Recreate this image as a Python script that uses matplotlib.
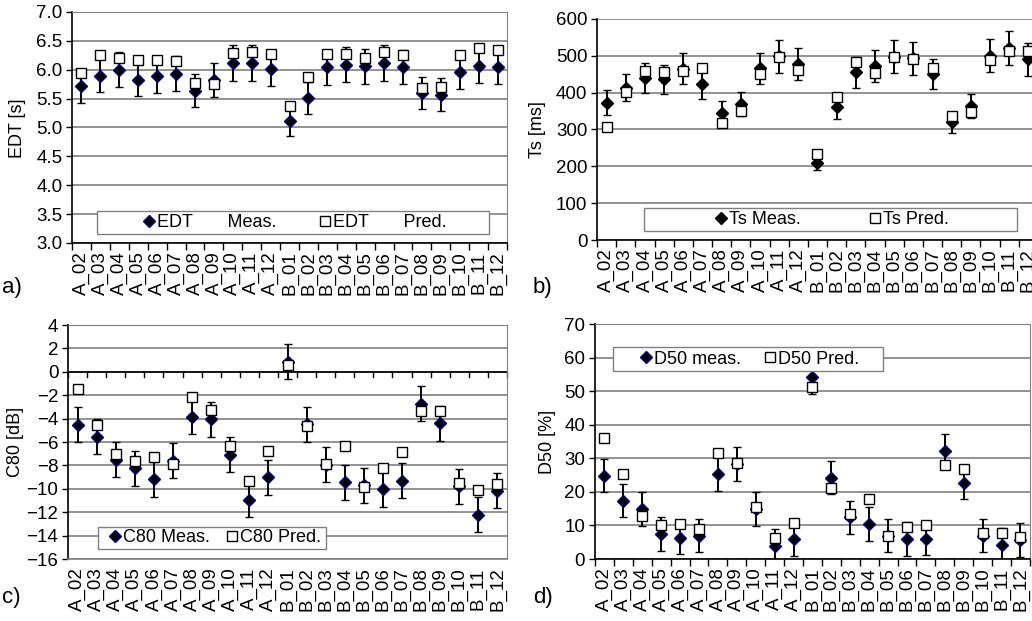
import matplotlib
matplotlib.use("Agg")
import matplotlib.pyplot as plt
from matplotlib.lines import Line2D
from matplotlib.patches import Rectangle
import numpy as np

plt.rcParams['font.family'] = ['Liberation Sans', 'DejaVu Sans']

# categorias (posiciones de medida)
posiciones = ['A_02', 'A_03', 'A_04', 'A_05', 'A_06', 'A_07', 'A_08', 'A_09',
              'A_10', 'A_11', 'A_12', 'B_01', 'B_02', 'B_03', 'B_04', 'B_05',
              'B_06', 'B_07', 'B_08', 'B_09', 'B_10', 'B_11', 'B_12']

# a) EDT [s]
edt_meas = [5.71, 5.90, 6.00, 5.83, 5.89, 5.93, 5.64, 5.82, 6.12, 6.12, 6.02, 5.11,
            5.51, 6.04, 6.09, 6.06, 6.12, 6.05, 5.60, 5.57, 5.96, 6.07, 6.05]
edt_err = [0.28, 0.29, 0.30, 0.29, 0.29, 0.30, 0.28, 0.29, 0.31, 0.31, 0.30, 0.26,
           0.28, 0.30, 0.30, 0.30, 0.31, 0.30, 0.28, 0.28, 0.30, 0.30, 0.30]
edt_pred = [5.94, 6.26, 6.20, 6.16, 6.16, 6.15, 5.77, 5.75, 6.29, 6.30, 6.28, 5.37,
            5.87, 6.27, 6.28, 6.21, 6.30, 6.26, 5.69, 5.70, 6.25, 6.38, 6.34]

# b) Ts [ms]
ts_meas = [373, 413, 440, 436, 465, 423, 344, 369, 466, 499, 478, 210,
           361, 455, 472, 497, 493, 450, 319, 364, 500, 521, 490]
ts_err = [34, 37, 40, 40, 42, 40, 32, 33, 42, 45, 43, 19,
          33, 42, 43, 45, 44, 40, 29, 32, 45, 47, 45]
ts_pred = [308, 403, 458, 455, 458, 467, 317, 349, 451, 496, 462, 234,
           387, 483, 453, 497, 492, 467, 337, 347, 489, 512, 514]

# c) C80 [dB]
c80_meas = [-4.53, -5.53, -7.52, -8.23, -9.17, -7.6, -3.82, -4.05, -7.10, -10.94, -9.0, 0.87,
            -4.47, -7.95, -9.43, -9.7, -10.03, -9.31, -2.74, -4.39, -9.8, -12.2, -10.17]
c80_err = 1.5
c80_pred = [-1.49, -4.53, -7.04, -7.66, -7.24, -7.86, -2.12, -3.25, -6.38, -9.31, -6.75, 0.59,
            -4.62, -7.86, -6.38, -9.88, -8.23, -6.81, -3.34, -3.34, -9.46, -10.08, -9.57]

# d) D50 [%]
d50_meas = [24.9, 17.4, 14.9, 7.5, 6.4, 7.0, 25.3, 28.4, 14.9, 4.0, 5.9, 54.3,
            24.3, 12.4, 10.5, 7.0, 5.9, 6.1, 32.3, 22.8, 7.0, 4.2, 5.7]
d50_err = 5.0
d50_pred = [36.2, 25.3, 12.7, 10.0, 10.5, 8.9, 31.5, 28.6, 15.5, 6.4, 10.7, 51.2,
            21.3, 13.5, 17.9, 6.9, 9.5, 10.0, 28.1, 26.9, 7.9, 7.9, 6.7]

GRIS = '#808080'
TAM_TICK = 13.5


def dibujar_panel(ax, meas, err, pred, ylim, paso, color_borde, cero=None):
    """Dibuja un panel estilo Excel: medido con barras de error y predicho"""
    x = np.arange(len(posiciones))
    ax.set_xlim(-0.5, len(posiciones) - 0.5)
    ax.set_ylim(*ylim)
    ticks = np.arange(ylim[0], ylim[1] + paso / 2, paso)
    ax.set_yticks(ticks)
    for t in ticks:
        ax.axhline(t, color=GRIS, lw=1.2, zorder=1)
    ax.errorbar(x, meas, yerr=err, fmt='D', ms=6.3, mfc='black', mec=color_borde,
                mew=1.0, ecolor='black', elinewidth=1.4, capsize=3, capthick=1.4,
                zorder=4)
    ax.plot(x, pred, 's', ms=7.5, mfc='white', mec='black', mew=1.0, zorder=5)
    ax.set_xticks(x)
    ax.set_xticklabels(posiciones, rotation=90, fontsize=TAM_TICK)
    ax.xaxis.set_minor_locator(matplotlib.ticker.FixedLocator(np.arange(-0.5, len(posiciones), 1)))
    ax.tick_params(axis='x', which='major', length=0, pad=6)
    ax.tick_params(axis='x', which='minor', length=5, width=1.0, direction='out')
    ax.tick_params(axis='y', length=4, width=1.0, direction='out', labelsize=TAM_TICK, pad=3)
    for lado in ['top', 'right']:
        ax.spines[lado].set_color(GRIS)
    ax.spines['left'].set_color('black')
    ax.spines['left'].set_linewidth(1.2)
    ax.spines['bottom'].set_linewidth(1.2)
    if cero is not None:
        # el eje de categorias cruza en cero
        ax.spines['bottom'].set_color(GRIS)
        ax.axhline(cero, color='black', lw=1.2, zorder=2)
        for b in np.arange(-0.5, len(posiciones), 1):
            ax.plot([b, b], [cero, cero - (ylim[1] - ylim[0]) * 0.02], color='black',
                    lw=1.0, zorder=2, clip_on=False)
        ax.tick_params(axis='x', which='minor', length=0)
    ax.set_facecolor('white')


def leyenda(ax, caja, centro, etiquetas, color_borde, sep):
    x0, y0, x1, y1 = caja
    ax.add_patch(Rectangle((x0, y0), x1 - x0, y1 - y0, transform=ax.transAxes,
                           facecolor='white', edgecolor=GRIS, lw=1.0, zorder=6))
    h1 = Line2D([], [], ls='none', marker='D', ms=6.3, mfc='black', mec=color_borde)
    h2 = Line2D([], [], ls='none', marker='s', ms=7.5, mfc='white', mec='black')
    lg = ax.legend([h1, h2], etiquetas, loc='center', bbox_to_anchor=(centro, (y0 + y1) / 2),
                   ncol=2, frameon=False, fontsize=13, handlelength=0.6,
                   handletextpad=0.15, columnspacing=sep, borderpad=0)
    lg.set_zorder(7)


fig = plt.figure(figsize=(10.32, 6.21), dpi=100)

ax_a = fig.add_axes([0.0698, 0.6087, 0.4215, 0.372])
ax_b = fig.add_axes([0.5785, 0.6135, 0.4273, 0.356])
ax_c = fig.add_axes([0.0659, 0.0998, 0.4254, 0.3768])
ax_d = fig.add_axes([0.5765, 0.0998, 0.4215, 0.378])

dibujar_panel(ax_a, edt_meas, edt_err, edt_pred, (3.0, 7.0), 0.5, '#000080')
ax_a.yaxis.set_major_formatter(matplotlib.ticker.FormatStrFormatter('%.1f'))
leyenda(ax_a, (0.057, 0.039, 0.959, 0.139), 0.513,
        ['EDT       Meas.', 'EDT       Pred.'], '#000080', 2.4)

dibujar_panel(ax_b, ts_meas, ts_err, ts_pred, (0, 600), 100, 'black')
ax_b.spines['top'].set_visible(False)
ax_b.spines['right'].set_visible(False)
leyenda(ax_b, (0.107, 0.041, 0.952, 0.145), 0.533,
        ['Ts Meas.', 'Ts Pred.'], 'black', 3.8)

dibujar_panel(ax_c, c80_meas, c80_err, c80_pred, (-16, 4), 2, '#000080', cero=0)
leyenda(ax_c, (0.068, 0.043, 0.588, 0.137), 0.335,
        ['C80 Meas.', 'C80 Pred.'], '#000080', 0.9)

dibujar_panel(ax_d, d50_meas, d50_err, d50_pred, (0, 70), 10, '#000080')
leyenda(ax_d, (0.041, 0.80, 0.662, 0.902), 0.356,
        ['D50 meas.', 'D50 Pred.'], '#000080', 1.3)

# etiquetas de los ejes y
fig.text(18 / 1032, 1 - 128 / 621, 'EDT [s]', rotation=90, ha='center', va='center', fontsize=13)
fig.text(537 / 1032, 1 - 130 / 621, 'Ts [ms]', rotation=90, ha='center', va='center', fontsize=13)
fig.text(16 / 1032, 1 - 442 / 621, 'C80 [dB]', rotation=90, ha='center', va='center', fontsize=13)
fig.text(548 / 1032, 1 - 442 / 621, 'D50 [%]', rotation=90, ha='center', va='center', fontsize=13)

# letras de los paneles
fig.text(2 / 1032, 1 - 287 / 621, 'a)', ha='left', va='center', fontsize=16)
fig.text(533 / 1032, 1 - 287 / 621, 'b)', ha='left', va='center', fontsize=16)
fig.text(2 / 1032, 1 - 597 / 621, 'c)', ha='left', va='center', fontsize=16)
fig.text(533 / 1032, 1 - 597 / 621, 'd)', ha='left', va='center', fontsize=16)

fig.savefig('out.png', dpi=100, facecolor='white')
